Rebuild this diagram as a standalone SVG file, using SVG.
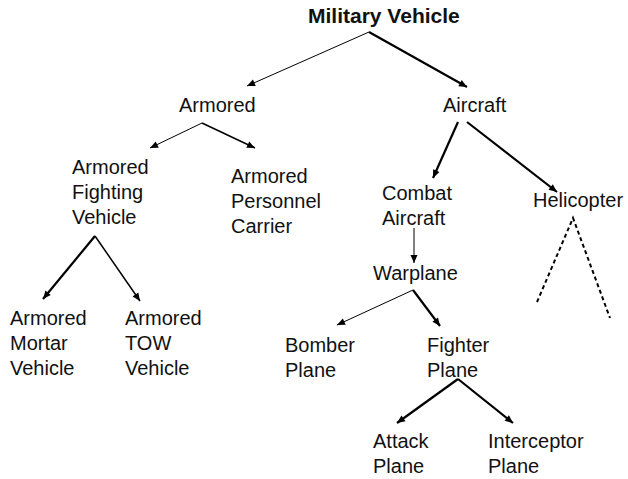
<svg xmlns="http://www.w3.org/2000/svg" width="628" height="479" viewBox="0 0 628 479">
<defs>
<marker id="ah" markerUnits="userSpaceOnUse" markerWidth="10" markerHeight="10" viewBox="0 0 10 10" refX="9" refY="5" orient="auto">
<path d="M1,1.5 L9,5 L1,8.5 z" fill="#000"/>
</marker>
<style>
.t{font-family:"Liberation Sans",Arial,sans-serif;font-size:20px;fill:#111}
.title{font-family:"Liberation Sans",Arial,sans-serif;font-size:21px;font-weight:bold;fill:#111}
.c{stroke:#000;fill:none;marker-end:url(#ah)}
.th{stroke-width:1}
.md{stroke-width:1.5}
.tk{stroke-width:2.2}
.d{stroke:#000;fill:none;stroke-width:2;stroke-dasharray:4 3}
</style>
</defs>
<rect width="628" height="479" fill="#fff"/>
<g id="connectors">
<line class="c th" x1="369" y1="32" x2="247" y2="86"/>
<line class="c tk" x1="369" y1="32" x2="467" y2="87"/>
<line class="c th" x1="202" y1="123" x2="150" y2="148"/>
<line class="c md" x1="202" y1="123" x2="255" y2="148"/>
<line class="c tk" x1="95" y1="236" x2="43" y2="299"/>
<line class="c md" x1="95" y1="236" x2="140" y2="301"/>
<line class="c tk" x1="458" y1="122" x2="433" y2="178"/>
<line class="c tk" x1="467" y1="122" x2="557" y2="192"/>
<line class="c th" x1="414" y1="228" x2="414" y2="263"/>
<line class="c th" x1="413" y1="290" x2="337" y2="325"/>
<line class="c tk" x1="413" y1="290" x2="440" y2="326"/>
<line class="c tk" x1="458" y1="379" x2="397" y2="423"/>
<line class="c tk" x1="458" y1="379" x2="513" y2="423"/>
<polyline class="d" points="537,302 573,218 610,318"/>
</g>
<g id="military-vehicle"><text class="title" x="308" y="23">Military Vehicle</text></g>
<g id="armored"><text class="t" x="179" y="112">Armored</text></g>
<g id="aircraft"><text class="t" x="443" y="112">Aircraft</text></g>
<g id="afv"><text class="t" x="72" y="174">Armored</text><text class="t" x="72" y="199">Fighting</text><text class="t" x="72" y="224">Vehicle</text></g>
<g id="apc"><text class="t" x="231" y="183">Armored</text><text class="t" x="231" y="208">Personnel</text><text class="t" x="231" y="233">Carrier</text></g>
<g id="amv"><text class="t" x="10" y="325">Armored</text><text class="t" x="10" y="350">Mortar</text><text class="t" x="10" y="375">Vehicle</text></g>
<g id="atv"><text class="t" x="125" y="325">Armored</text><text class="t" x="125" y="350">TOW</text><text class="t" x="125" y="375">Vehicle</text></g>
<g id="combat-aircraft"><text class="t" x="382" y="200">Combat</text><text class="t" x="382" y="225">Aircraft</text></g>
<g id="helicopter"><text class="t" x="533" y="207">Helicopter</text></g>
<g id="warplane"><text class="t" x="373" y="280">Warplane</text></g>
<g id="bomber"><text class="t" x="285" y="352">Bomber</text><text class="t" x="285" y="377">Plane</text></g>
<g id="fighter"><text class="t" x="427" y="352">Fighter</text><text class="t" x="427" y="377">Plane</text></g>
<g id="attack"><text class="t" x="373" y="448">Attack</text><text class="t" x="373" y="473">Plane</text></g>
<g id="interceptor"><text class="t" x="488" y="448">Interceptor</text><text class="t" x="488" y="473">Plane</text></g>
</svg>
